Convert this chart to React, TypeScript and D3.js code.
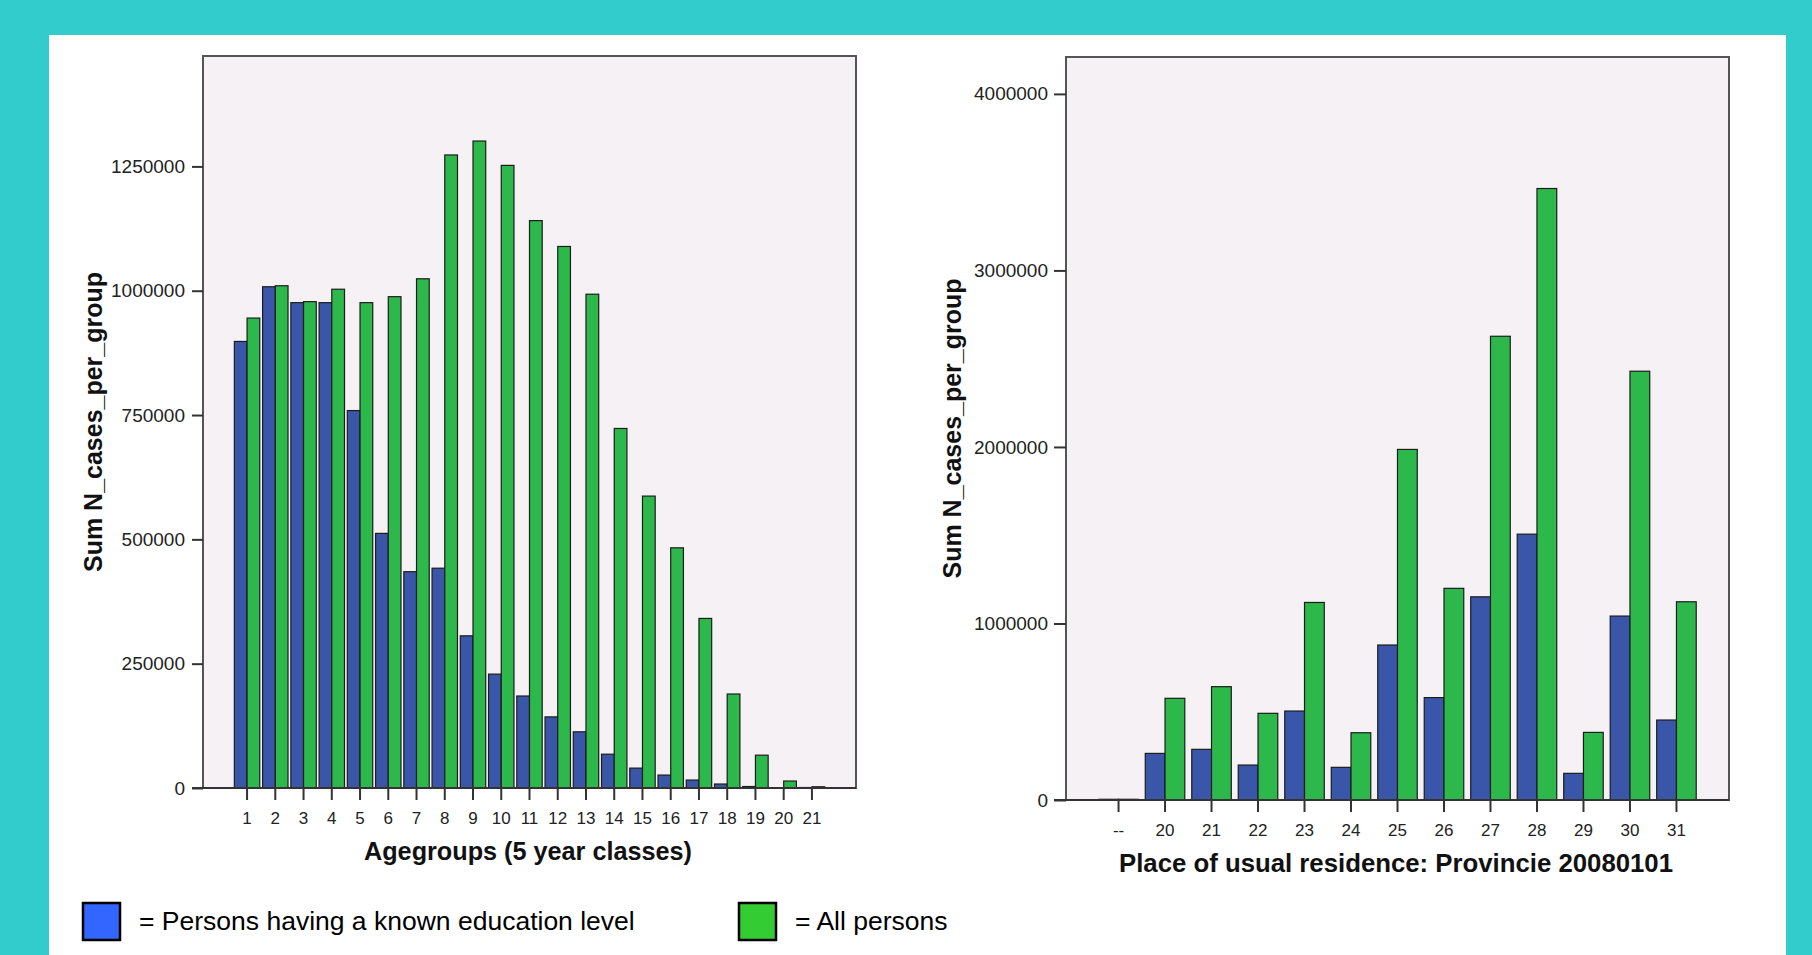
import React, { useEffect, useRef } from "react";
import * as d3 from "d3";

// Left chart: age groups
const ageGroups = ["1", "2", "3", "4", "5", "6", "7", "8", "9", "10", "11", "12", "13", "14", "15", "16", "17", "18", "19", "20", "21"];
const ageKnownEdu = [898000, 1008000, 976000, 976000, 759000, 512000, 435000, 442000, 306000, 229000, 185000, 143000, 113000, 68000, 40000, 26000, 16000, 8000, 3000, 800, 1000];
const ageAllPersons = [945000, 1010000, 978000, 1003000, 976000, 988000, 1024000, 1273000, 1301000, 1252000, 1141000, 1089000, 993000, 723000, 587000, 483000, 341000, 189000, 66000, 14000, 2500];
const ageTicks = [0, 250000, 500000, 750000, 1000000, 1250000];
const ageMax = 1472000;

// Right chart: provinces
const provinces = ["--", "20", "21", "22", "23", "24", "25", "26", "27", "28", "29", "30", "31"];
const provKnownEdu = [4000, 264000, 287000, 198000, 504000, 185000, 878000, 580000, 1151000, 1506000, 151000, 1042000, 453000];
const provAllPersons = [4000, 576000, 642000, 491000, 1119000, 381000, 1986000, 1199000, 2627000, 3464000, 383000, 2429000, 1123000];
const provTicks = [0, 1000000, 2000000, 3000000, 4000000];
const provMax = 4209000;

const W = 1812;
const H = 955;
const teal = "#33CCCC";
const plotBg = "#F6F1F5";
const blueBar = "#3A56A8";
const greenBar = "#2DB84C";
const blueLegend = "#3366FF";
const greenLegend = "#33CC33";
const font = "'Liberation Sans', Arial, sans-serif";

type ChartSpec = {
  cats: string[];
  known: number[];
  all: number[];
  ticks: number[];
  max: number;
  left: number;
  right: number;
  top: number;
  bottom: number;
  padInner: number;
  padOuter: number;
  yTickSize: number;
  yTickPad: number;
  yTitleX: number;
  xTitle: string;
  xTitleX: number;
  xTitleWidth: number;
};

const App: React.FC = () => {
  const svgRef = useRef<SVGSVGElement | null>(null);

  useEffect(() => {
    if (!svgRef.current) return;
    const svg = d3.select(svgRef.current);
    svg.selectAll("*").remove();

    // page background and white panel
    svg.append("rect").attr("width", W).attr("height", H).attr("fill", teal);
    svg.append("rect").attr("x", 49).attr("y", 35).attr("width", 1737).attr("height", H - 35).attr("fill", "#ffffff");

    const drawChart = (c: ChartSpec) => {
      const g = svg.append("g");
      const x = d3.scaleBand().domain(c.cats).range([c.left, c.right]).paddingInner(c.padInner).paddingOuter(c.padOuter);
      const sub = d3.scaleBand().domain(["known", "all"]).range([0, x.bandwidth()]);
      const y = d3.scaleLinear().domain([0, c.max]).range([c.bottom, c.top]);

      // plot background with frame
      g.append("rect")
        .attr("x", c.left)
        .attr("y", c.top)
        .attr("width", c.right - c.left)
        .attr("height", c.bottom - c.top)
        .attr("fill", plotBg)
        .attr("stroke", "#555")
        .attr("stroke-width", 2);

      const rows = c.cats.map((cat, i) => ({ cat, known: c.known[i], all: c.all[i] }));

      // blue bars
      g.selectAll(".known")
        .data(rows)
        .enter()
        .append("rect")
        .attr("x", (d) => (x(d.cat) as number) + (sub("known") as number))
        .attr("y", (d) => y(d.known))
        .attr("width", sub.bandwidth())
        .attr("height", (d) => c.bottom - y(d.known))
        .attr("fill", blueBar)
        .attr("stroke", "#1c1c1c")
        .attr("stroke-width", 1.2);

      // green bars
      g.selectAll(".all")
        .data(rows)
        .enter()
        .append("rect")
        .attr("x", (d) => (x(d.cat) as number) + (sub("all") as number))
        .attr("y", (d) => y(d.all))
        .attr("width", sub.bandwidth())
        .attr("height", (d) => c.bottom - y(d.all))
        .attr("fill", greenBar)
        .attr("stroke", "#1c1c1c")
        .attr("stroke-width", 1.2);

      // y axis
      const yAxis = g
        .append("g")
        .attr("transform", `translate(${c.left},0)`)
        .call(d3.axisLeft(y).tickValues(c.ticks).tickFormat((d) => String(d)).tickSize(c.yTickSize).tickPadding(c.yTickPad));
      yAxis.select(".domain").remove();
      yAxis.selectAll("line").attr("stroke", "#333").attr("stroke-width", 2);
      yAxis.selectAll("text").attr("font-family", font).attr("font-size", 19).attr("fill", "#222");

      // x axis
      const xAxis = g
        .append("g")
        .attr("transform", `translate(0,${c.bottom})`)
        .call(d3.axisBottom(x).tickSize(12).tickPadding(12));
      xAxis.select(".domain").remove();
      xAxis.selectAll("line").attr("stroke", "#333").attr("stroke-width", 2);
      xAxis.selectAll("text").attr("font-family", font).attr("font-size", 17).attr("fill", "#222");

      // baseline, extends to the zero tick
      g.append("line")
        .attr("x1", c.left - c.yTickSize)
        .attr("x2", c.right)
        .attr("y1", c.bottom)
        .attr("y2", c.bottom)
        .attr("stroke", "#333")
        .attr("stroke-width", 2);

      // axis titles
      g.append("text")
        .attr("transform", `translate(${c.yTitleX},${(c.top + c.bottom) / 2}) rotate(-90)`)
        .attr("text-anchor", "middle")
        .attr("font-family", font)
        .attr("font-weight", "bold")
        .attr("font-size", 26)
        .attr("textLength", 300)
        .attr("lengthAdjust", "spacingAndGlyphs")
        .attr("fill", "#111")
        .text("Sum N_cases_per_group");

      g.append("text")
        .attr("x", c.xTitleX)
        .attr("y", c.bottom + 72)
        .attr("text-anchor", "middle")
        .attr("font-family", font)
        .attr("font-weight", "bold")
        .attr("font-size", 25)
        .attr("textLength", c.xTitleWidth)
        .attr("lengthAdjust", "spacingAndGlyphs")
        .attr("fill", "#111")
        .text(c.xTitle);
    };

    drawChart({
      cats: ageGroups,
      known: ageKnownEdu,
      all: ageAllPersons,
      ticks: ageTicks,
      max: ageMax,
      left: 203,
      right: 856,
      top: 56,
      bottom: 788,
      padInner: 0.1,
      padOuter: 1.11,
      yTickSize: 11,
      yTickPad: 7,
      yTitleX: 102,
      xTitle: "Agegroups (5 year classes)",
      xTitleX: 528,
      xTitleWidth: 328,
    });

    drawChart({
      cats: provinces,
      known: provKnownEdu,
      all: provAllPersons,
      ticks: provTicks,
      max: provMax,
      left: 1066,
      right: 1729,
      top: 57,
      bottom: 800,
      padInner: 0.15,
      padOuter: 0.705,
      yTickSize: 12,
      yTickPad: 6,
      yTitleX: 961,
      xTitle: "Place of usual residence: Provincie 20080101",
      xTitleX: 1396,
      xTitleWidth: 554,
    });

    // legend
    const legend = svg.append("g");
    legend.append("rect").attr("x", 83).attr("y", 903).attr("width", 37).attr("height", 37).attr("fill", blueLegend).attr("stroke", "#000").attr("stroke-width", 2.5);
    legend.append("text").attr("x", 139).attr("y", 930).attr("font-family", font).attr("font-size", 26.5).attr("fill", "#000").text("= Persons having a known education level");
    legend.append("rect").attr("x", 739).attr("y", 903).attr("width", 37).attr("height", 37).attr("fill", greenLegend).attr("stroke", "#000").attr("stroke-width", 2.5);
    legend.append("text").attr("x", 795).attr("y", 930).attr("font-family", font).attr("font-size", 26.5).attr("fill", "#000").text("= All persons");
  }, []);

  return <svg ref={svgRef} width={W} height={H} style={{ position: "absolute", left: 0, top: 0 }}></svg>;
};

export default App;
